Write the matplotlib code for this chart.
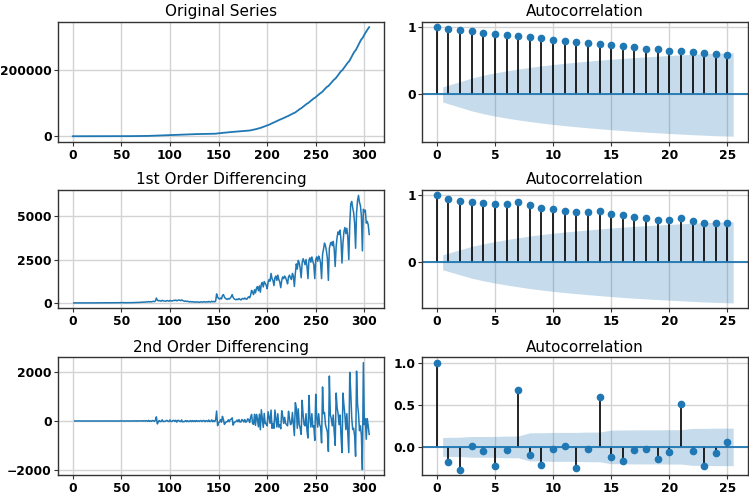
import numpy as np
import matplotlib
matplotlib.use("Agg")
import matplotlib.pyplot as plt

# Daily new values (1st order difference), days 1..305
daily = [
    0, 1, 0, 0,
    1, 0, 0, 2, 0, 1, 0,
    1, 0, 2, 0, 1, 2, 0,
    2, 1, 3, 1, 2, 4, 1,
    3, 5, 2, 4, 6, 3, 5,
    7, 4, 8, 6, 9, 5, 8,
    10, 7, 12, 9, 13, 8, 11,
    14, 10, 16, 12, 18, 14, 17,
    10, 8, 12, 15, 11, 16, 14,
    18, 15, 22, 26, 20, 30, 25,
    32, 28, 38, 45, 36, 50, 42,
    55, 65, 50, 75, 60, 70, 58,
    80, 90, 75, 110, 280, 160, 120,
    140, 115, 100, 150, 125, 110, 95,
    110, 135, 120, 100, 145, 125, 105,
    125, 150, 135, 165, 120, 145, 170,
    155, 130, 175, 140, 115, 95, 110,
    85, 100, 75, 60, 80, 55, 70,
    50, 65, 40, 60, 45, 55, 35,
    50, 65, 40, 55, 75, 45, 60,
    70, 45, 85, 60, 50, 95, 65,
    85, 60, 110, 520, 330, 260, 220,
    280, 230, 420, 480, 340, 260, 230,
    200, 250, 220, 280, 350, 480, 310,
    240, 200, 180, 220, 190, 250, 210,
    170, 230, 260, 220, 280, 230, 210,
    300, 350, 290, 450, 720, 620, 480,
    760, 580, 850, 940, 700, 980, 620,
    1080, 1180, 920, 1230, 1120, 1020, 820,
    1200, 1350, 1250, 1700, 1400, 1300, 1000,
    1450, 1550, 1300, 1600, 1350, 1200, 880,
    1300, 1500, 1400, 1550, 1450, 1300, 1100,
    1500, 1600, 1450, 1350, 1700, 1550, 950,
    1700, 2250, 1950, 2450, 2300, 2000, 1450,
    2300, 2550, 2400, 2200, 2500, 2100, 1400,
    2450, 2600, 2350, 2650, 2400, 2200, 1400,
    2500, 2650, 2400, 2700, 2550, 2300, 1400,
    2800, 3100, 3450, 3300, 3000, 2550, 1300,
    3150, 3400, 3500, 3300, 3550, 3100, 2100,
    3250, 3800, 4100, 3950, 4200, 3600, 2300,
    3450, 4100, 4350, 4000, 4300, 3800, 2500,
    4500, 5700, 5850, 5500, 5200, 4600, 3150,
    5200, 5900, 6200, 5800, 5600, 5000, 3000,
    5400, 5250, 5350, 4600, 4700, 4500, 3950,
]

# Autocorrelation values (lags 0..25)
acf_orig = [1.0, 0.975, 0.955, 0.94, 0.92, 0.90, 0.885, 0.875, 0.855, 0.835,
            0.815, 0.795, 0.775, 0.765, 0.75, 0.73, 0.72, 0.70, 0.68, 0.67,
            0.65, 0.64, 0.625, 0.615, 0.60, 0.59]
acf_d1 = [1.0, 0.95, 0.915, 0.895, 0.885, 0.87, 0.875, 0.895, 0.85, 0.81,
          0.79, 0.77, 0.75, 0.75, 0.77, 0.725, 0.70, 0.675, 0.655, 0.635,
          0.635, 0.66, 0.62, 0.59, 0.585, 0.58]
acf_d2 = [1.0, -0.18, -0.27, 0.01, -0.05, -0.23, -0.04, 0.675, -0.095, -0.22,
          -0.023, 0.012, -0.245, -0.023, 0.594, -0.12, -0.17, -0.035, -0.023, -0.14,
          -0.055, 0.51, -0.043, -0.23, -0.078, 0.059]

titles_left = ["Original Series", "1st Order Differencing", "2nd Order Differencing"]

d1 = np.array(daily, dtype=float)
original = np.concatenate([[0.0], np.cumsum(d1)])
x_orig = np.arange(len(original))
x_d1 = np.arange(1, len(original))
d2 = np.diff(d1)
x_d2 = np.arange(2, len(original))

n_obs = len(original)

def bartlett_band(acf):
    acf = np.asarray(acf)
    nl = len(acf)
    var = np.ones(nl) / n_obs
    var[0] = 0
    var[2:] *= 1 + 2 * np.cumsum(acf[1:-1] ** 2)
    return 1.959964 * np.sqrt(var)

fig = plt.figure(figsize=(7.49, 4.97), dpi=100)

rows = [(0.7149, 0.9563), (0.3797, 0.6177), (0.0443, 0.2811)]
lcol = (0.0774, 0.5127)
rcol = (0.5634, 0.9987)

def style(ax):
    ax.grid(True, color="#d3d3d3", linewidth=1.0)
    ax.set_axisbelow(True)
    for s in ax.spines.values():
        s.set_color("#333333")
        s.set_linewidth(1.0)
    ax.tick_params(labelsize=8.8, length=3, color="#333333")
    ax.tick_params(axis="y", pad=1.5)
    ax.tick_params(axis="x", pad=2)
    for lab in ax.get_xticklabels() + ax.get_yticklabels():
        lab.set_fontweight("bold")

series = [(x_orig, original), (x_d1, d1), (x_d2, d2)]
yticks_left = [[0, 200000], [0, 2500, 5000], [-2000, 0, 2000]]
acfs = [acf_orig, acf_d1, acf_d2]
yticks_right = [[0, 1], [0, 1], [0.0, 0.5, 1.0]]
yfmt_right = ["{:.0f}", "{:.0f}", "{:.1f}"]

for i, (b, t) in enumerate(rows):
    axl = fig.add_axes([lcol[0], b, lcol[1] - lcol[0], t - b])
    xs, ys = series[i]
    axl.plot(xs, ys, color="#1f77b4", linewidth=1.3 if i == 0 else 1.1)
    axl.set_xlim(-15.25, 320.25)
    axl.set_xticks([0, 50, 100, 150, 200, 250, 300])
    axl.set_yticks(yticks_left[i])
    axl.set_title(titles_left[i], fontsize=11, pad=4)
    style(axl)

    axr = fig.add_axes([rcol[0], b, rcol[1] - rcol[0], t - b])
    acf = np.asarray(acfs[i])
    lags = np.arange(len(acf))
    band = bartlett_band(acf)
    bl = lags[1:].astype(float)
    bl[0] -= 0.5
    bl[-1] += 0.5
    axr.fill_between(bl, -band[1:], band[1:], color="#1f77b4", alpha=0.25, linewidth=0)
    axr.vlines(lags, 0, acf, colors="black", linewidth=1.2)
    axr.axhline(0, color="#1f77b4", linewidth=1.3)
    axr.plot(lags, acf, marker="o", markersize=4.5, linestyle="None", color="#1f77b4")
    axr.margins(0.05)
    axr.set_xticks([0, 5, 10, 15, 20, 25])
    axr.set_yticks(yticks_right[i])
    axr.set_yticklabels([yfmt_right[i].format(v) for v in yticks_right[i]])
    axr.set_title("Autocorrelation", fontsize=11, pad=4)
    style(axr)

fig.savefig("out.png", dpi=100)
